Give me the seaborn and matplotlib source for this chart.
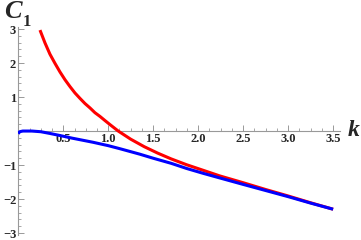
import numpy as np
import pandas as pd
import seaborn as sns
import matplotlib
matplotlib.use('Agg')
import matplotlib.pyplot as plt
from matplotlib.ticker import MultipleLocator, FixedLocator

# Data
red_k = [0.241, 0.297, 0.352, 0.408, 0.463, 0.519, 0.574, 0.630, 0.686, 0.741,
         0.797, 0.852, 0.908, 0.963, 1.019, 1.111, 1.25, 1.40, 1.55, 1.70, 1.87,
         2.05, 2.24, 2.50, 2.75, 3.00, 3.25, 3.50]
red_c = [2.97, 2.59, 2.26, 1.99, 1.74, 1.51, 1.31, 1.12, 0.96, 0.81,
         0.68, 0.54, 0.43, 0.31, 0.19, 0.0, -0.24, -0.46, -0.65, -0.82, -0.99,
         -1.15, -1.32, -1.52, -1.72, -1.91, -2.11, -2.30]

blue_k = [0.0, 0.015, 0.05, 0.15, 0.25, 0.35, 0.46, 0.60, 0.83, 1.00, 1.13, 1.35,
          1.50, 1.70, 1.87, 2.05, 2.24, 2.50, 2.75, 3.00, 3.25, 3.50]
blue_c = [-0.08, -0.02, 0.0, 0.0, -0.02, -0.07, -0.13, -0.21, -0.33, -0.43, -0.52,
          -0.68, -0.80, -0.95, -1.10, -1.24, -1.38, -1.57, -1.75, -1.93, -2.12, -2.30]

x_ticks = [0.5, 1.0, 1.5, 2.0, 2.5, 3.0, 3.5]
x_labels = ['0.5', '1.0', '1.5', '2.0', '2.5', '3.0', '3.5']
y_ticks = [-3, -2, -1, 1, 2, 3]
y_labels = ['\u22123', '\u22122', '\u22121', '1', '2', '3']

df_red = pd.DataFrame({'k': red_k, 'C1': red_c})
df_blue = pd.DataFrame({'k': blue_k, 'C1': blue_c})

sns.set_style('white')
plt.rcParams['font.family'] = ['Liberation Serif', 'DejaVu Serif']

fig = plt.figure(figsize=(3.61, 2.40), dpi=100)
ax = fig.add_axes([0.0507, 0.022, 0.892, 0.864])

sns.lineplot(data=df_red, x='k', y='C1', color='#ff0000', linewidth=2.2,
             sort=False, estimator=None, ax=ax, zorder=3,
             solid_capstyle='butt', solid_joinstyle='round')
sns.lineplot(data=df_blue, x='k', y='C1', color='#0000ff', linewidth=2.2,
             sort=False, estimator=None, ax=ax, zorder=3,
             solid_capstyle='butt', solid_joinstyle='round')

ax.set_xlim(0, 3.58)
ax.set_ylim(-3.05, 3.05)
ax.set_xlabel('')
ax.set_ylabel('')

# axes through the origin
ax.spines['left'].set_position(('data', 0))
ax.spines['bottom'].set_position(('data', 0))
ax.spines['top'].set_visible(False)
ax.spines['right'].set_visible(False)
for s in ['left', 'bottom']:
    ax.spines[s].set_color('#999999')
    ax.spines[s].set_linewidth(0.8)

ax.xaxis.set_major_locator(FixedLocator(x_ticks))
ax.set_xticklabels(x_labels)
ax.xaxis.set_minor_locator(MultipleLocator(0.125))
ax.yaxis.set_major_locator(FixedLocator(y_ticks))
ax.set_yticklabels(y_labels)
ax.yaxis.set_minor_locator(MultipleLocator(0.2))

ax.tick_params(axis='both', which='major', direction='in', length=4, width=0.7,
               color='#999999', labelsize=9, pad=1.5)
ax.tick_params(axis='both', which='minor', direction='in', length=2, width=0.6,
               color='#999999')
ax.tick_params(axis='x', which='both', bottom=True, top=False)
ax.tick_params(axis='y', which='both', left=True, right=False)
for lbl in ax.get_xticklabels() + ax.get_yticklabels():
    lbl.set_fontweight('bold')

# axis labels
fig.text(0.010, 0.95, 'C', fontsize=19, fontweight='bold', fontstyle='italic',
         ha='left', va='center')
fig.text(0.062, 0.91, '1', fontsize=12, fontweight='bold',
         ha='left', va='center')
fig.text(0.962, 0.455, 'k', fontsize=17, fontweight='bold', fontstyle='italic',
         ha='left', va='center')

fig.savefig('out.png', dpi=100)
